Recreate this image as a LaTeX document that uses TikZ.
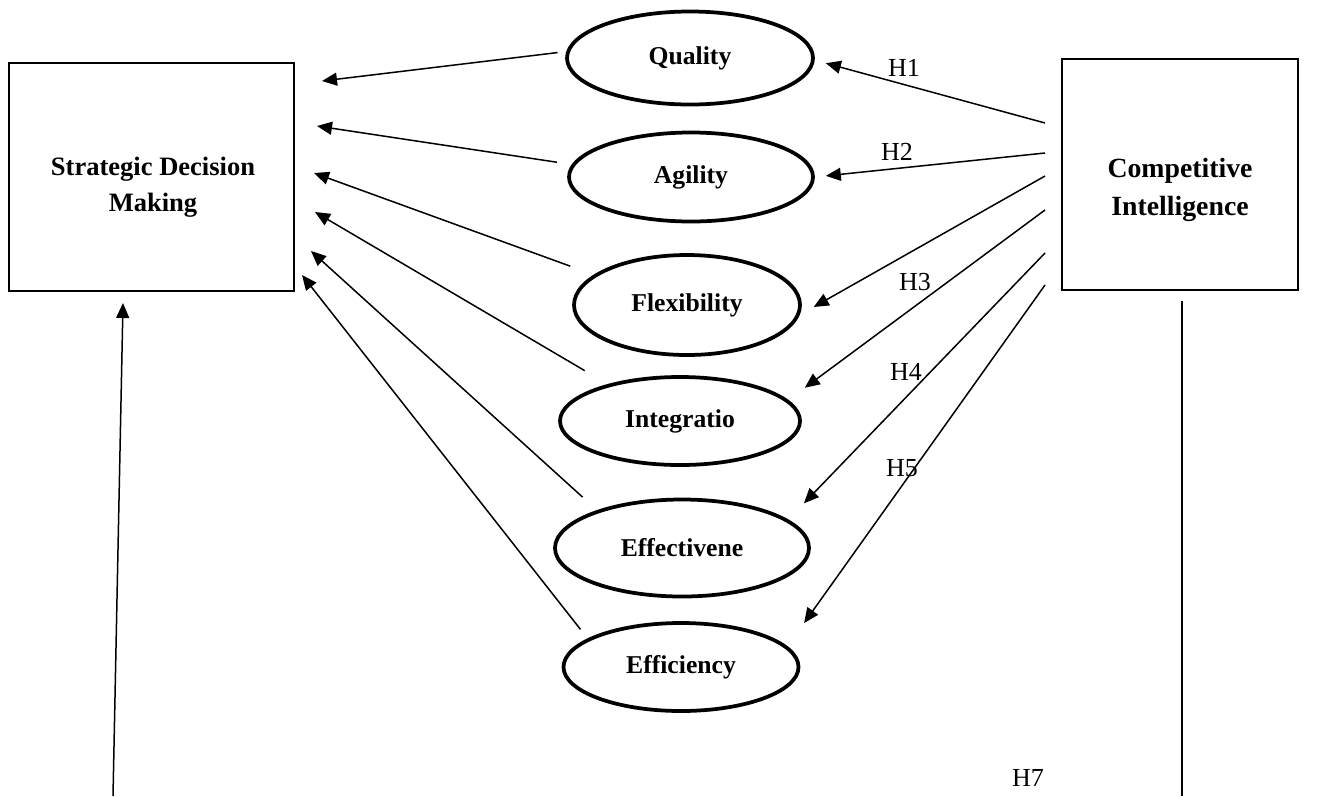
\documentclass[tikz,border=0pt]{standalone}
\usepackage{fontspec}
\setmainfont{Liberation Serif}
\usetikzlibrary{arrows.meta,shapes.geometric}

\begin{document}
\begin{tikzpicture}[
    x=0.2mm,y=-0.2mm,
    box/.style={draw=black,line width=0.4mm,inner sep=0pt},
    boxtext/.style={align=center,font=\fontsize{15.1}{20.4}\selectfont\bfseries},
    construct/.style={ellipse,draw=black,line width=0.75mm,inner sep=0pt,font=\fontsize{14.6}{17}\selectfont\bfseries},
    hyp/.style={font=\fontsize{14.8}{17}\selectfont},
    arrow/.style={-{Triangle[length=3mm,width=2.6mm]},line width=0.3mm},
    plain/.style={line width=0.3mm}
]
\useasboundingbox (0,0) rectangle (1330,796);

% Outcome and driver
\node[box,minimum width=57mm,minimum height=45.6mm] (sdm) at (151.5,177) {};
\node[boxtext] (sdm-text) at (153,187) {Strategic Decision\\Making};
\node[box,minimum width=47.2mm,minimum height=46.2mm] (ci) at (1180,174.5) {};
\node[boxtext,font=\fontsize{15.8}{21.5}\selectfont\bfseries] (ci-text) at (1180,190) {Competitive\\Intelligence};

% Mediating constructs
\node[construct,minimum width=49.2mm,minimum height=18.6mm] (quality) at (690,58) {Quality};
\node[construct,minimum width=48.8mm,minimum height=17.8mm] (agility) at (691,177) {Agility};
\node[construct,minimum width=45.2mm,minimum height=20mm] (flexibility) at (687,305) {Flexibility};
\node[construct,minimum width=48mm,minimum height=17.6mm] (integration) at (680,421) {Integratio};
\node[construct,minimum width=50.8mm,minimum height=19.4mm] (effectiveness) at (682,548) {Effectivene};
\node[construct,minimum width=47mm,minimum height=17.6mm] (efficiency) at (681,667) {Efficiency};

% Free ends next to the boxes
\foreach \i/\x/\y in {1/322/81,2/317/126,3/314/173,4/315/212,5/311/251,6/302/275}
  \coordinate (sdm-in\i) at (\x,\y);
\foreach \i/\y in {1/123,2/153,3/176,4/210,5/253,6/285}
  \coordinate (ci-out\i) at (1045,\y);
\coordinate (sdm-foot) at (113,796);
\coordinate (sdm-up) at (123,303);
\coordinate (ci-down) at (1182,301);
\coordinate (ci-foot) at (1182,796);

% Constructs -> decision making
\draw[arrow,shorten <=1.75mm] (quality.177.7) -- (sdm-in1);
\draw[arrow,shorten <=3mm] (agility.174.4) -- (sdm-in2);
\draw[arrow,shorten <=5mm] (flexibility.162) -- (sdm-in3);
\draw[arrow,shorten <=5.3mm] (integration.153.8) -- (sdm-in4);
\draw[arrow,shorten <=3.9mm] (effectiveness.156.2) -- (sdm-in5);
\draw[arrow,shorten <=2.3mm] (efficiency.163.6) -- (sdm-in6);

% Intelligence -> constructs
\draw[arrow,shorten >=2.3mm] (ci-out1) -- (quality.-1);
\draw[arrow,shorten >=2.2mm] (ci-out2) -- (agility.-0.5);
\draw[arrow,shorten >=3.2mm] (ci-out3) -- (flexibility.-5);
\draw[arrow,shorten >=4.1mm] (ci-out4) -- (integration.11);
\draw[arrow,shorten >=4.5mm] (ci-out5) -- (effectiveness.15);
\draw[arrow,shorten >=5.7mm] (ci-out6) -- (efficiency.11);

% Direct path
\draw[arrow] (sdm-foot) -- (sdm-up);
\draw[plain] (ci-down) -- (ci-foot);

% Hypotheses
\node[hyp] (h1) at (904,68) {H1};
\node[hyp] (h2) at (897,152) {H2};
\node[hyp] (h3) at (915,282) {H3};
\node[hyp] (h4) at (906,372) {H4};
\node[hyp] (h5) at (902,468) {H5};
\node[hyp] (h7) at (1028,778) {H7};
\end{tikzpicture}
\end{document}
